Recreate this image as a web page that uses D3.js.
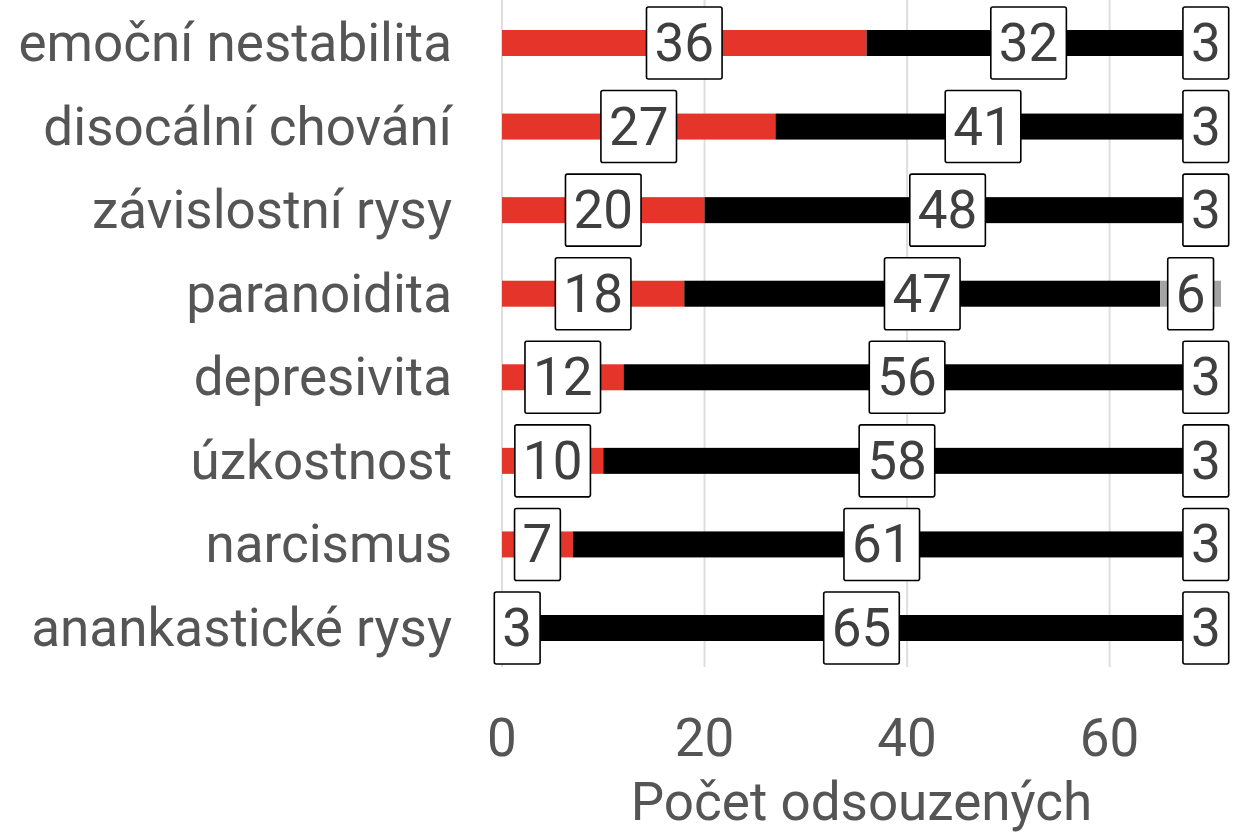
<!DOCTYPE html>
<html>
<head>
<meta charset="utf-8">
<script src="https://cdn.jsdelivr.net/npm/d3@7"></script>
<style>
  html, body { margin: 0; padding: 0; background: #fff; }
  svg { display: block; font-family: Roboto, "Noto Sans", sans-serif; }
</style>
</head>
<body>
<div id="chart"></div>
<script>
/* ── Data ─────────────────────────────────────────────────────────── */
const CATEGORIES = [
  'emoční nestabilita', 'disocální chování', 'závislostní rysy', 'paranoidita',
  'depresivita', 'úzkostnost', 'narcismus', 'anankastické rysy'
];
const RED_VALUES   = [36, 27, 20, 18, 12, 10, 7, 3];
const BLACK_VALUES = [32, 41, 48, 47, 56, 58, 61, 65];
const GREY_VALUES  = [3, 3, 3, 6, 3, 3, 3, 3];
const X_TICKS      = [0, 20, 40, 60];
const X_TITLE      = 'Počet odsouzených';

const SERIES = [
  { key: 'red',   values: RED_VALUES,   color: '#e5352b' },
  { key: 'black', values: BLACK_VALUES, color: '#000000' },
  { key: 'grey',  values: GREY_VALUES,  color: '#a3a3a3' },
];

/* ── Layout ───────────────────────────────────────────────────────── */
const W = 1234, H = 834;
const X0 = 502, X1 = 1221;        // plot x extent (0 .. 71)
const PLOT_TOP = 0, PLOT_BOT = 667;
const BAR_H = 26;
const FONT = 53;
const TEXT_COL = '#555555';

const svg = d3.select('#chart').append('svg')
  .attr('width', W).attr('height', H)
  .attr('viewBox', `0 0 ${W} ${H}`);

const x = d3.scaleLinear().domain([0, 71]).range([X0, X1]);
const y = d3.scalePoint().domain(CATEGORIES).range([43, 628]);

// stacked rows
const rows = CATEGORIES.map((cat, i) => {
  let acc = 0;
  return {
    cat,
    segs: SERIES.map(s => {
      const v = s.values[i];
      const seg = { key: s.key, color: s.color, v, x0: acc, x1: acc + v };
      acc += v;
      return seg;
    })
  };
});

/* ── Grid ─────────────────────────────────────────────────────────── */
svg.append('g').selectAll('line')
  .data(X_TICKS).join('line')
  .attr('x1', d => x(d)).attr('x2', d => x(d))
  .attr('y1', PLOT_TOP).attr('y2', PLOT_BOT)
  .attr('stroke', '#dedede').attr('stroke-width', 2);

/* ── Bars ─────────────────────────────────────────────────────────── */
const barG = svg.append('g');
rows.forEach(r => {
  barG.selectAll(null)
    .data(r.segs.filter(s => s.v > 0)).join('rect')
    .attr('x', s => x(s.x0))
    .attr('width', s => x(s.x1) - x(s.x0))
    .attr('y', y(r.cat) - BAR_H / 2)
    .attr('height', BAR_H)
    .attr('fill', s => s.color);
});

/* ── Labels ───────────────────────────────────────────────────────── */
const labG = svg.append('g');
const PAD_X = 8, BOX_H = 72;
rows.forEach(r => {
  r.segs.forEach(s => {
    const cx = x((s.x0 + s.x1) / 2);
    const cy = y(r.cat);
    const g = labG.append('g');
    const t = g.append('text')
      .attr('x', cx).attr('y', cy)
      .attr('text-anchor', 'middle')
      .attr('dominant-baseline', 'central')
      .attr('font-size', FONT)
      .attr('fill', '#3f3f3f')
      .text(s.v);
    const tw = t.node().getComputedTextLength();
    g.insert('rect', 'text')
      .attr('x', cx - tw / 2 - PAD_X)
      .attr('y', cy - BOX_H / 2)
      .attr('width', tw + PAD_X * 2)
      .attr('height', BOX_H)
      .attr('rx', 2)
      .attr('fill', '#fff')
      .attr('stroke', '#000')
      .attr('stroke-width', 1.6);
  });
});

/* ── Axes text ────────────────────────────────────────────────────── */
svg.append('g').selectAll('text')
  .data(CATEGORIES).join('text')
  .attr('x', 452)
  .attr('y', d => y(d))
  .attr('text-anchor', 'end')
  .attr('dominant-baseline', 'central')
  .attr('font-size', FONT)
  .attr('fill', TEXT_COL)
  .text(d => d);

svg.append('g').selectAll('text')
  .data(X_TICKS).join('text')
  .attr('x', d => x(d))
  .attr('y', 738)
  .attr('text-anchor', 'middle')
  .attr('dominant-baseline', 'central')
  .attr('font-size', FONT)
  .attr('fill', TEXT_COL)
  .text(d => d);

svg.append('text')
  .attr('x', (X0 + X1) / 2)
  .attr('y', 802)
  .attr('text-anchor', 'middle')
  .attr('dominant-baseline', 'central')
  .attr('font-size', FONT)
  .attr('fill', TEXT_COL)
  .text(X_TITLE);
</script>
</body>
</html>
